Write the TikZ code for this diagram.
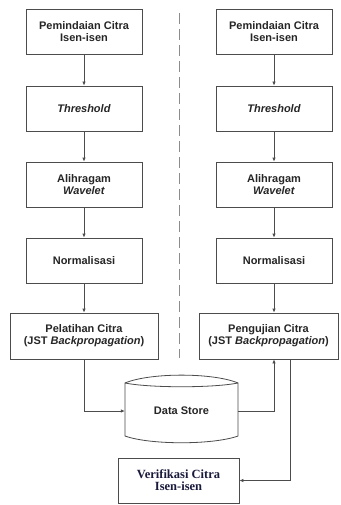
\documentclass[tikz,border=0pt]{standalone}
\usepackage{fontspec}
\setmainfont{Liberation Sans}
\newfontfamily\serifbf{Liberation Serif}
\usetikzlibrary{arrows.meta}
\definecolor{navytext}{HTML}{1A1A3C}
\begin{document}
\begin{tikzpicture}[x=1pt,y=-1pt,
  box/.style={draw=black!70, line width=0.8pt, minimum height=45pt, align=center,
    font=\fontsize{11}{12}\selectfont\bfseries, inner sep=0pt, text=black!85},
  colbox/.style={box, minimum width=116pt},
  arr/.style={draw=black!70, line width=0.8pt, -{Latex[length=4pt,width=3.5pt]}},
  ln/.style={draw=black!70, line width=0.8pt},
]
\useasboundingbox (0,0) rectangle (340,505);
\fill[white] (0,0) rectangle (340,505);

% left column
\node[colbox] (l1) at (84,31.5) {Pemindaian Citra\\Isen-isen};
\node[colbox] (l2) at (84,108.5) {\textit{Threshold}};
\node[colbox] (l3) at (84,184.5) {Alihragam\\\textit{Wavelet}};
\node[colbox] (l4) at (84,260.5) {Normalisasi};
\node[box, minimum width=148pt, minimum height=46pt] (l5) at (84,336) {Pelatihan Citra\\(JST \textit{Backpropagation})};

% right column
\node[colbox] (r1) at (274,31.5) {Pemindaian Citra\\Isen-isen};
\node[colbox] (r2) at (274,108.5) {\textit{Threshold}};
\node[colbox] (r3) at (274,184.5) {Alihragam\\\textit{Wavelet}};
\node[colbox] (r4) at (274,260.5) {Normalisasi};
\node[box, minimum width=139pt, minimum height=46pt] (r5) at (268.5,336) {Pengujian Citra\\(JST \textit{Backpropagation})};

% dashed separator
\coordinate (d1) at (179,13);
\coordinate (d2) at (179,358);
\draw[black!45, line width=0.8pt, dash pattern=on 11pt off 5pt] (d1) -- (d2);

% data store (cylinder)
\node[minimum width=113pt, minimum height=53pt, inner sep=0pt,
      font=\fontsize{11}{12}\selectfont\bfseries, text=black!85] (ds) at (181.5,411) {Data Store};
\draw[ln] (125,383) .. controls (150,372.5) and (213,372.5) .. (238,383)
          -- (238,436) .. controls (213,445) and (150,445) .. (125,436) -- cycle;
\draw[ln] (125,383) .. controls (150,388) and (213,388) .. (238,383);

% verification
\node[box, minimum width=121pt, font=\serifbf\fontsize{12.5}{12}\selectfont\bfseries, text=navytext] (vf) at (178.5,480.5) {Verifikasi Citra\\Isen-isen};

% connectors
\draw[arr] (l1) -- (l2);
\draw[arr] (l2) -- (l3);
\draw[arr] (l3) -- (l4);
\draw[arr] (l4) -- (l4 |- l5.north);
\draw[arr] (r1) -- (r2);
\draw[arr] (r2) -- (r3);
\draw[arr] (r3) -- (r4);
\draw[arr] (r4) -- (r4 |- r5.north);
\draw[arr] (l5.south) |- (ds.west);
\draw[arr] (ds.east) -| ([xshift=5.5pt]r5.south);
\draw[arr] ([xshift=21.5pt]r5.south) |- (vf.east);
\end{tikzpicture}
\end{document}
